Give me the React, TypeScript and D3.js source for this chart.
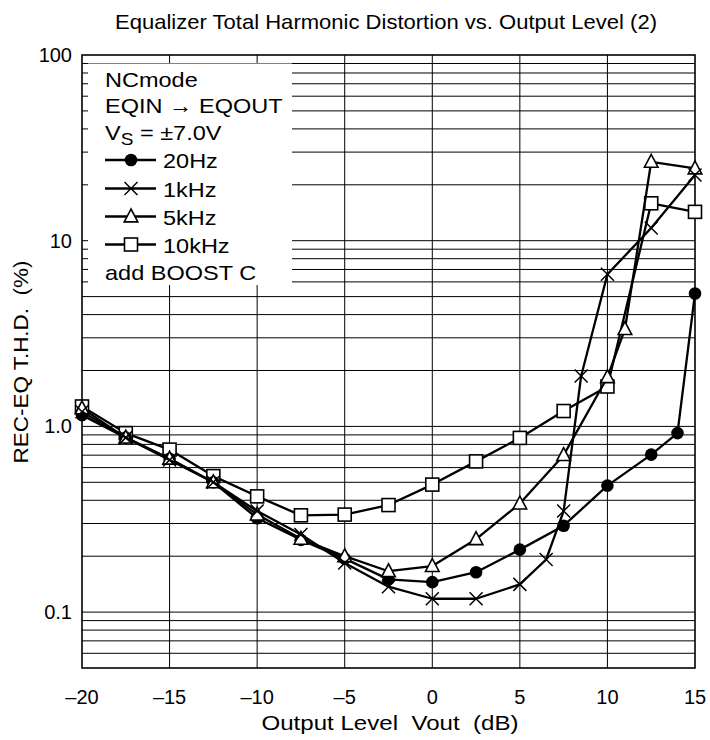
import React from "react";
import * as d3 from "d3";

const W = 710;
const H = 740;
const M = { left: 82, right: 695, top: 55, bottom: 668 };

const titleText = "Equalizer Total Harmonic Distortion vs. Output Level (2)";
const xTitle = "Output Level  Vout  (dB)";
const yTitle = "REC-EQ T.H.D.  (%)";

const xTicks = [-20, -15, -10, -5, 0, 5, 10, 15];
const xTickLabels = ["\u201320", "\u201315", "\u201310", "\u20135", "0", "5", "10", "15"];
const yTicks = [0.1, 1, 10, 100];
const yTickLabels = ["0.1", "1.0", "10", "100"];

const x20Hz = [-20, -17.5, -15, -12.5, -10, -7.5, -5, -2.5, 0, 2.5, 5, 7.5, 10, 12.5, 14, 15];
const y20Hz = [1.15, 0.87, 0.67, 0.5, 0.32, 0.245, 0.194, 0.15, 0.145, 0.164, 0.217, 0.292, 0.48, 0.705, 0.92, 5.2];

const x1kHz = [-20, -17.5, -15, -12.5, -10, -7.5, -5, -2.5, 0, 2.5, 5, 6.5, 7.5, 8.5, 10, 12.5, 15];
const y1kHz = [1.2, 0.87, 0.66, 0.5, 0.35, 0.262, 0.184, 0.137, 0.118, 0.118, 0.141, 0.192, 0.35, 1.87, 6.6, 11.7, 22.6];

const x5kHz = [-20, -17.5, -15, -12.5, -10, -7.5, -5, -2.5, 0, 2.5, 5, 7.5, 10, 11, 12.5, 15];
const y5kHz = [1.25, 0.87, 0.67, 0.5, 0.335, 0.248, 0.2, 0.166, 0.177, 0.247, 0.384, 0.7, 1.84, 3.34, 26.6, 24.5];

const x10kHz = [-20, -17.5, -15, -12.5, -10, -7.5, -5, -2.5, 0, 2.5, 5, 7.5, 10, 12.5, 15];
const y10kHz = [1.28, 0.92, 0.75, 0.54, 0.42, 0.332, 0.335, 0.377, 0.486, 0.648, 0.867, 1.21, 1.64, 15.9, 14.3];

const seriesNames = ["20Hz", "1kHz", "5kHz", "10kHz"];
const seriesMarkers = ["circle", "cross", "triangle", "square"];

const FONT = "'Liberation Sans', Arial, Helvetica, sans-serif";

function Marker({ type, cx, cy }: { type: string; cx: number; cy: number }) {
  const s = 6.5;
  if (type === "circle") return <circle cx={cx} cy={cy} r={6.3} fill="#000" />;
  if (type === "square")
    return <rect x={cx - s} y={cy - s} width={2 * s} height={2 * s} fill="#fff" stroke="#000" strokeWidth={1.6} />;
  if (type === "triangle") {
    const h = 12;
    return (
      <polygon
        points={`${cx},${cy - h * 0.62} ${cx - 6.8},${cy + h * 0.45} ${cx + 6.8},${cy + h * 0.45}`}
        fill="#fff"
        stroke="#000"
        strokeWidth={1.6}
      />
    );
  }
  return (
    <g stroke="#000" strokeWidth={1.5}>
      <line x1={cx - s} y1={cy - s} x2={cx + s} y2={cy + s} />
      <line x1={cx - s} y1={cy + s} x2={cx + s} y2={cy - s} />
    </g>
  );
}

export default function App() {
  const x = d3.scaleLinear().domain([-20, 15]).range([M.left, M.right]);
  const y = d3.scaleLog().domain([0.05, 100]).range([M.bottom, M.top]);

  const gridY: number[] = [];
  [0.01, 0.1, 1, 10].forEach((dec) => {
    for (let k = 1; k <= 9; k++) {
      const v = +(dec * k).toPrecision(3);
      if (v > 0.05 && v < 100) gridY.push(v);
    }
  });
  const gridX = [-15, -10, -5, 0, 5, 10];

  const line = d3
    .line<[number, number]>()
    .x((d) => x(d[0]))
    .y((d) => y(d[1]));

  const series = [
    { name: seriesNames[3], marker: seriesMarkers[3], xs: x10kHz, ys: y10kHz },
    { name: seriesNames[0], marker: seriesMarkers[0], xs: x20Hz, ys: y20Hz },
    { name: seriesNames[2], marker: seriesMarkers[2], xs: x5kHz, ys: y5kHz },
    { name: seriesNames[1], marker: seriesMarkers[1], xs: x1kHz, ys: y1kHz },
  ];

  const legendX = 105;
  const legendBase = [86.7, 112.7, 140, 168, 196.5, 224.5, 252.5, 280];
  const legendItems = [
    { marker: seriesMarkers[0], label: seriesNames[0] },
    { marker: seriesMarkers[1], label: seriesNames[1] },
    { marker: seriesMarkers[2], label: seriesNames[2] },
    { marker: seriesMarkers[3], label: seriesNames[3] },
  ];

  return (
    <svg
      width={W}
      height={H}
      style={{ position: "absolute", left: 0, top: 0, background: "#fff" }}
      fontFamily={FONT}
    >
      <rect x={0} y={0} width={W} height={H} fill="#fff" />
      {/* title */}
      <text x={386} y={29} fontSize={21} textAnchor="middle" textLength={542} lengthAdjust="spacingAndGlyphs">
        {titleText}
      </text>

      {/* grid */}
      <g stroke="#000" strokeWidth={1}>
        {gridY.map((v) => (
          <line key={"gy" + v} x1={M.left} x2={M.right} y1={y(v)} y2={y(v)} />
        ))}
        {gridX.map((v) => (
          <line key={"gx" + v} x1={x(v)} x2={x(v)} y1={M.top} y2={M.bottom} />
        ))}
      </g>

      {/* legend box */}
      <rect x={88} y={63.5} width={204} height={221.5} fill="#fff" />

      {/* frame */}
      <rect
        x={M.left}
        y={M.top}
        width={M.right - M.left}
        height={M.bottom - M.top}
        fill="none"
        stroke="#000"
        strokeWidth={1.6}
      />

      {/* series */}
      {series.map((s) => {
        const pts: [number, number][] = s.xs.map((xv, i) => [xv, s.ys[i]]);
        return (
          <g key={s.name}>
            <path d={line(pts) || ""} fill="none" stroke="#000" strokeWidth={2.3} strokeLinejoin="round" />
            {pts.map((p, i) => (
              <Marker key={i} type={s.marker} cx={x(p[0])} cy={y(p[1])} />
            ))}
          </g>
        );
      })}

      {/* legend */}
      <g fontSize={21}>
        <g transform={`translate(${legendX},${legendBase[0]}) scale(1.12,1)`}>
          <text>NCmode</text>
        </g>
        <g transform={`translate(${legendX},${legendBase[1]}) scale(1.12,1)`}>
          <text>EQIN {"\u2192"} EQOUT</text>
        </g>
        <g transform={`translate(${legendX},${legendBase[2]}) scale(1.12,1)`}>
          <text>
            V
            <tspan fontSize={17} dy={5}>S</tspan>
            <tspan dy={-5}> = {"\u00B1"}7.0V</tspan>
          </text>
        </g>
        {legendItems.map((it, i) => {
          const base = legendBase[3 + i];
          const cy = base - 8;
          return (
            <g key={it.label}>
              <line x1={legendX} x2={legendX + 51} y1={cy} y2={cy} stroke="#000" strokeWidth={2.3} />
              <Marker type={it.marker} cx={legendX + 26} cy={cy} />
              <g transform={`translate(${legendX + 58},${base}) scale(1.12,1)`}>
                <text>{it.label}</text>
              </g>
            </g>
          );
        })}
        <g transform={`translate(${legendX},${legendBase[7]}) scale(1.12,1)`}>
          <text>add BOOST C</text>
        </g>
      </g>

      {/* axes labels */}
      <g fontSize={20}>
        {yTicks.map((v, i) => (
          <text key={"yt" + v} x={72} y={y(v) + 7} textAnchor="end">
            {yTickLabels[i]}
          </text>
        ))}
        {xTicks.map((v, i) => (
          <text key={"xt" + v} x={x(v)} y={704} textAnchor="middle">
            {xTickLabels[i]}
          </text>
        ))}
        <text
          x={390}
          y={730}
          fontSize={21}
          textAnchor="middle"
          textLength={257}
          lengthAdjust="spacingAndGlyphs"
          style={{ whiteSpace: "pre" }}
        >
          {xTitle}
        </text>
        <text
          transform="translate(28,362) rotate(-90)"
          fontSize={20}
          textAnchor="middle"
          textLength={203}
          lengthAdjust="spacingAndGlyphs"
          style={{ whiteSpace: "pre" }}
        >
          {yTitle}
        </text>
      </g>
    </svg>
  );
}
